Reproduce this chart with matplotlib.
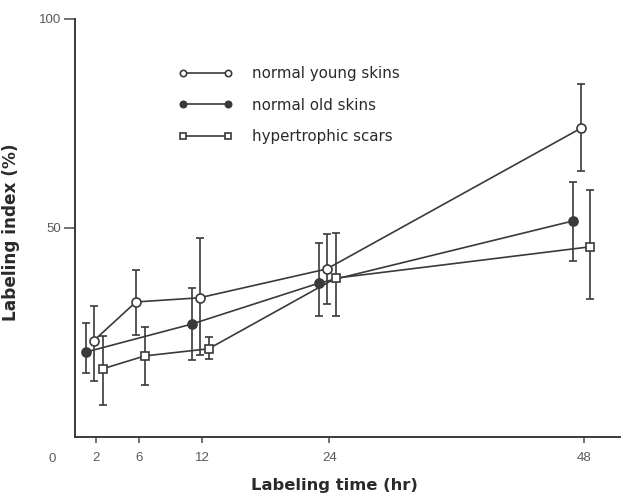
"""Labeling index over time for skin samples."""

import matplotlib
matplotlib.use("Agg")
import matplotlib.pyplot as plt

# labeling time (hr)
times = [2, 6, 12, 24, 48]
times_old = [2, 12, 24, 48]

# normal young skins: mean, upper and lower error bar ends (%)
young_mean = [23.0, 32.3, 33.3, 40.2, 73.9]
young_hi = [31.3, 40.0, 47.6, 48.6, 84.4]
young_lo = [13.4, 24.4, 19.6, 31.8, 63.6]

# normal old skins
old_mean = [20.3, 27.0, 36.8, 51.7]
old_hi = [27.3, 35.6, 46.4, 61.0]
old_lo = [15.3, 18.4, 28.9, 42.1]

# hypertrophic scars
scar_mean = [16.3, 19.4, 21.1, 38.0, 45.5]
scar_hi = [24.2, 26.3, 23.9, 48.8, 59.1]
scar_lo = [7.7, 12.4, 18.7, 28.9, 33.0]

x_ticks = [2, 6, 12, 24, 48]
y_ticks = [50, 100]

INK = "#3a3a3a"
TICK = "#5a5a5a"
LABEL = "#2a2a2a"


def set_style():
    plt.rcParams.update({
        "font.family": ["Liberation Sans", "DejaVu Sans"],
        "font.size": 9,
        "axes.edgecolor": INK, "axes.linewidth": 1.4,
    })


def draw_series(ax, x, mean, lo, hi, shift, marker, face, label, ms):
    xs = [t + shift for t in x]
    err = [[m - l for m, l in zip(mean, lo)], [h - m for m, h in zip(mean, hi)]]
    ax.errorbar(xs, mean, yerr=err, fmt="none", ecolor=INK, elinewidth=1.2,
                capsize=3.2, capthick=1.2, zorder=2)
    ax.plot(xs, mean, color=INK, lw=1.2, marker=marker, ms=ms,
            mfc=face, mec=INK, mew=1.2, label=label, zorder=3)


set_style()
fig = plt.figure(figsize=(6.21, 4.99), dpi=100)
ax = fig.add_axes([0.1208, 0.1243, 0.8792, 0.8377])
fig.patch.set_facecolor("white")

draw_series(ax, times, young_mean, young_lo, young_hi, -0.25, "o", "white",
            "normal young skins", 6.5)
draw_series(ax, times_old, old_mean, old_lo, old_hi, -1.0, "o", INK,
            "normal old skins", 6.5)
draw_series(ax, times, scar_mean, scar_lo, scar_hi, 0.6, "s", "white",
            "hypertrophic scars", 6)

ax.set_xlim(0, 51.5)
ax.set_ylim(0, 100)
ax.spines["top"].set_visible(False)
ax.spines["right"].set_visible(False)

ax.set_xticks(x_ticks)
ax.set_xticklabels([str(t) for t in x_ticks])
ax.set_yticks(y_ticks)
ax.set_yticklabels([str(t) for t in y_ticks])
ax.tick_params(axis="x", direction="out", length=4.5, width=1.2, pad=6,
               colors=TICK, labelsize=9.5)
ax.tick_params(axis="y", direction="out", length=8, width=1.2, pad=2,
               colors=TICK, labelsize=9.5)
ax.text(-0.042, -0.053, "0", transform=ax.transAxes, ha="center", va="center",
        color=TICK, fontsize=9.5)

lab_font = dict(fontweight="bold", color=LABEL, family="DejaVu Sans")
ax.set_xlabel("Labeling time (hr)", fontsize=11.8, **lab_font)
ax.set_ylabel("Labeling index (%)", fontsize=12.2, **lab_font)
ax.xaxis.set_label_coords(0.476, -0.098)
ax.yaxis.set_label_coords(-0.1, 0.49)

leg = ax.legend(loc="upper left", bbox_to_anchor=(0.19, 0.888), frameon=False,
                numpoints=2, markerscale=0.7, handlelength=3.6, handletextpad=1.3,
                labelspacing=1.12, borderpad=0, borderaxespad=0,
                prop={"family": "DejaVu Sans", "size": 10.8})
for txt in leg.get_texts():
    txt.set_color(LABEL)

fig.savefig("out.png", dpi=100, facecolor="white")
